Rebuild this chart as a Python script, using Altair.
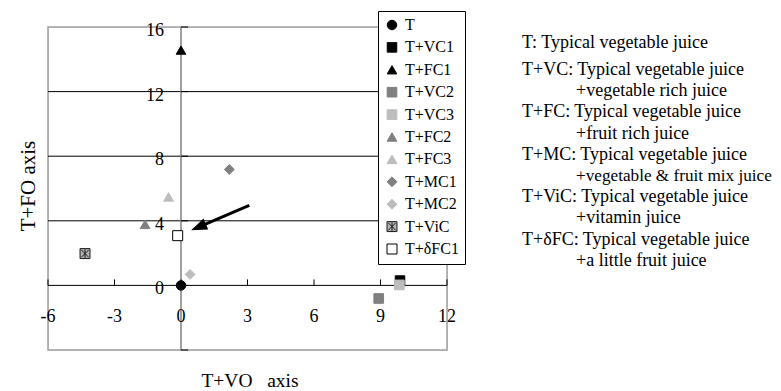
import altair as alt
import pandas as pd

FONT = "Liberation Serif"

# ---- data ----
series = ["T", "T+VC1", "T+FC1", "T+VC2", "T+VC3", "T+FC2", "T+FC3",
          "T+MC1", "T+MC2", "T+ViC", "T+δFC1"]
vo = [0.0, 9.88, 0.0, 8.92, 9.85, -1.62, -0.56, 2.18, 0.41, -4.33, -0.15]
fo = [0.0, 0.30, 14.57, -0.81, 0.03, 3.78, 5.48, 7.18, 0.68, 1.97, 3.08]

DARK = "#808080"
LIGHT = "#bdbdbd"
fills = ["black", "black", "black", DARK, LIGHT, DARK, LIGHT, DARK, LIGHT, "#b3b3b3", "white"]
strokes = ["black", "black", "black", DARK, LIGHT, DARK, LIGHT, DARK, LIGHT, "#1a1a1a", "black"]
shapes = ["circle", "square", "triangle-up", "square", "square", "triangle-up",
          "triangle-up", "diamond", "diamond",
          "M-1,-1H1V1H-1Z M-0.75,-0.75L0.75,0.75 M-0.75,0.75L0.75,-0.75 M0,-0.85L0,0.85",
          "square"]
sizes = [90, 100, 150, 110, 110, 150, 150, 130, 90, 196, 90]

x_dom = [-6, 12]
y_dom = [-4, 16]
x_ticks = [-6, -3, 0, 3, 6, 9, 12]
y_ticks = [-4, 0, 4, 8, 12, 16]
y_labels = [0, 4, 8, 12, 16]
grid_y = [4, 8, 12]

arrow_start = [3.08, 4.96]
arrow_head = [0.79, 3.61]

notes = [
    ("T: Typical vegetable juice", 0),
    ("T+VC: Typical vegetable juice", 0),
    ("+vegetable rich juice", 1),
    ("T+FC: Typical vegetable juice", 0),
    ("+fruit rich juice", 1),
    ("T+MC: Typical vegetable juice", 0),
    ("+vegetable & fruit mix juice", 1),
    ("T+ViC: Typical vegetable juice", 0),
    ("+vitamin juice", 1),
    ("T+δFC: Typical vegetable juice", 0),
    ("+a little fruit juice", 1),
]

XS = alt.Scale(domain=x_dom, nice=False, zero=False)
YS = alt.Scale(domain=y_dom, nice=False, zero=False)

pts = pd.DataFrame({"series": series, "vo": vo, "fo": fo})
frame_df = pd.DataFrame({"x0": [x_dom[0]], "x1": [x_dom[1]], "y0": [y_dom[0]], "y1": [y_dom[1]]})
grid_df = pd.DataFrame({"y": grid_y, "x0": x_dom[0], "x1": x_dom[1]})
xt_df = pd.DataFrame({"x": x_ticks, "y": 0, "lab": [str(v) for v in x_ticks]})
yt_df = pd.DataFrame({"y": y_ticks, "x": 0})
yl_df = pd.DataFrame({"y": y_labels, "x": 0, "lab": [str(v) for v in y_labels]})
axis0_df = pd.DataFrame({"x0": [x_dom[0]], "x1": [x_dom[1]], "y0": [y_dom[0]], "y1": [y_dom[1]], "z": [0]})
arrow_df = pd.DataFrame({"x0": [arrow_start[0]], "y0": [arrow_start[1]],
                         "x1": [arrow_head[0]], "y1": [arrow_head[1]]})

base = alt.Chart

frame = base(frame_df).mark_rect(fillOpacity=0, stroke="#a0a0a0", strokeWidth=1.5).encode(
    x=alt.X("x0:Q", scale=XS, axis=None), x2="x1:Q",
    y=alt.Y("y0:Q", scale=YS, axis=None), y2="y1:Q")

grid = base(grid_df).mark_rule(color="black", strokeWidth=1).encode(
    x=alt.X("x0:Q", scale=XS, axis=None), x2="x1:Q",
    y=alt.Y("y:Q", scale=YS, axis=None))

yaxis = base(axis0_df).mark_rule(color="#808080", strokeWidth=1.5).encode(
    x=alt.X("z:Q", scale=XS, axis=None),
    y=alt.Y("y0:Q", scale=YS, axis=None), y2="y1:Q")

xaxis = base(axis0_df).mark_rule(color="black", strokeWidth=1).encode(
    x=alt.X("x0:Q", scale=XS, axis=None), x2="x1:Q",
    y=alt.Y("z:Q", scale=YS, axis=None))

xticks = base(xt_df).mark_rule(color="black", strokeWidth=1, y2Offset=-6).encode(
    x=alt.X("x:Q", scale=XS, axis=None),
    y=alt.Y("y:Q", scale=YS, axis=None), y2="y:Q")

yticks = base(yt_df).mark_rule(color="black", strokeWidth=1, x2Offset=7).encode(
    x=alt.X("x:Q", scale=XS, axis=None), x2="x:Q",
    y=alt.Y("y:Q", scale=YS, axis=None))

xlabels = base(xt_df).mark_text(font=FONT, fontSize=18, color="black", dy=37,
                                baseline="alphabetic", align="center").encode(
    x=alt.X("x:Q", scale=XS, axis=None),
    y=alt.Y("y:Q", scale=YS, axis=None), text="lab:N")

ylabels = base(yl_df).mark_text(font=FONT, fontSize=18, color="black", dx=-17, dy=9,
                                baseline="alphabetic", align="right").encode(
    x=alt.X("x:Q", scale=XS, axis=None),
    y=alt.Y("y:Q", scale=YS, axis=None), text="lab:N")

arrow_line = base(arrow_df).mark_rule(color="black", strokeWidth=3).encode(
    x=alt.X("x0:Q", scale=XS, axis=None), y=alt.Y("y0:Q", scale=YS, axis=None),
    x2="x1:Q", y2="y1:Q")

arrow_tip = base(arrow_df).mark_point(shape="M0,-1L0.75,1L-0.75,1Z", filled=True,
                                      color="black", opacity=1, size=256, angle=247).encode(
    x=alt.X("x1:Q", scale=XS, axis=None), y=alt.Y("y1:Q", scale=YS, axis=None))

leg = alt.Legend(title=None, orient="none", legendX=330, legendY=-16,
                 padding=6, rowPadding=6.4, strokeColor="black", fillColor="white",
                 labelFont=FONT, labelFontSize=16, labelColor="black",
                 labelOffset=5, symbolStrokeWidth=1, symbolOpacity=1)

points = base(pts).mark_point(opacity=1, strokeWidth=1).encode(
    x=alt.X("vo:Q", scale=XS, axis=None),
    y=alt.Y("fo:Q", scale=YS, axis=None),
    fill=alt.Fill("series:N", scale=alt.Scale(domain=series, range=fills), legend=leg),
    stroke=alt.Stroke("series:N", scale=alt.Scale(domain=series, range=strokes), legend=leg),
    shape=alt.Shape("series:N", scale=alt.Scale(domain=series, range=shapes), legend=leg),
    size=alt.Size("series:N", scale=alt.Scale(domain=series, range=sizes), legend=leg),
    order=alt.Order("idx:Q"),
).transform_window(idx="row_number()")

one = pd.DataFrame({"a": [0]})
note_layers = []
for i, (txt, indent) in enumerate(notes):
    ybase = 21.3 if i == 0 else 48 + (i - 1) * 21.2
    xpos = 528 if indent else 474
    fs = 17.2 if len(txt) > 26 and indent else 18
    note_layers.append(
        base(one).mark_text(font=FONT, fontSize=fs, color="black", align="left",
                            baseline="alphabetic").encode(
            x=alt.value(xpos), y=alt.value(ybase), text=alt.value(txt)))

xtitle = base(one).mark_text(font=FONT, fontSize=19.5, color="black", align="center",
                             baseline="alphabetic").encode(
    x=alt.value(202), y=alt.value(360), text=alt.value("T+VO\u00a0\u00a0 axis"))

ytitle = base(one).mark_text(font=FONT, fontSize=21, color="black", align="center",
                             baseline="alphabetic", angle=270).encode(
    x=alt.value(-13), y=alt.value(159), text=alt.value("T+FO axis"))

chart = alt.layer(frame, grid, yaxis, xaxis, xticks, yticks, xlabels, ylabels,
                  arrow_line, arrow_tip, points, xtitle, ytitle, *note_layers).properties(
    width=399, height=323,
    autosize=alt.AutoSizeParams(type="none"),
    padding={"left": 40, "top": 19, "right": 326, "bottom": 41},
).configure_view(stroke=None).configure(font=FONT)

chart.save("out.html", embed_options={"renderer": "svg", "actions": False})
